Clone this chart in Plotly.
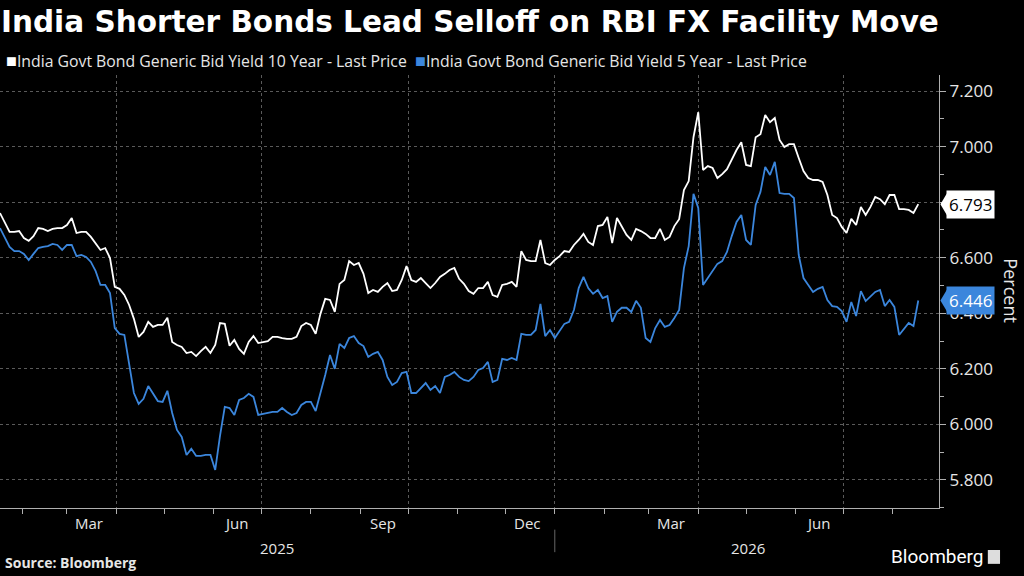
import pandas as pd
import plotly.graph_objects as go

# sample dates (every 3 days)
dates = pd.date_range("2025-01-18", "2026-08-17", freq="3D")

yield_10y = [
    6.761, 6.725, 6.693, 6.693, 6.696, 6.671, 6.661, 6.678, 6.707, 6.704,
    6.696, 6.704, 6.707, 6.707, 6.718, 6.743, 6.689, 6.693, 6.693, 6.675,
    6.650, 6.628, 6.635, 6.599, 6.495, 6.488, 6.466, 6.430, 6.380, 6.315,
    6.333, 6.369, 6.351, 6.358, 6.358, 6.384, 6.297, 6.286, 6.279, 6.257,
    6.261, 6.246, 6.264, 6.279, 6.257, 6.286, 6.365, 6.362, 6.283, 6.304,
    6.272, 6.254, 6.297, 6.318, 6.293, 6.297, 6.300, 6.315, 6.315, 6.311,
    6.308, 6.308, 6.315, 6.354, 6.365, 6.358, 6.326, 6.398, 6.452, 6.448,
    6.405, 6.506, 6.520, 6.588, 6.574, 6.581, 6.542, 6.473, 6.484, 6.477,
    6.495, 6.509, 6.480, 6.484, 6.520, 6.570, 6.520, 6.513, 6.527, 6.509,
    6.491, 6.509, 6.531, 6.542, 6.556, 6.563, 6.524, 6.506, 6.480, 6.470,
    6.491, 6.491, 6.513, 6.466, 6.459, 6.502, 6.506, 6.513, 6.495, 6.624,
    6.592, 6.588, 6.588, 6.664, 6.581, 6.574, 6.592, 6.606, 6.624, 6.621,
    6.646, 6.664, 6.686, 6.657, 6.646, 6.714, 6.718, 6.747, 6.653, 6.743,
    6.711, 6.682, 6.664, 6.704, 6.696, 6.686, 6.671, 6.671, 6.704, 6.664,
    6.675, 6.714, 6.739, 6.844, 6.876, 7.034, 7.124, 6.916, 6.930, 6.923,
    6.887, 6.901, 6.919, 6.955, 6.988, 7.016, 6.934, 6.930, 7.034, 7.045,
    7.114, 7.088, 7.103, 7.024, 6.999, 7.009, 7.009, 6.959, 6.912, 6.887,
    6.880, 6.880, 6.873, 6.826, 6.754, 6.743, 6.711, 6.689, 6.740, 6.718,
    6.783, 6.754, 6.783, 6.819, 6.811, 6.793, 6.826, 6.826, 6.775, 6.775,
    6.772, 6.761, 6.793,
]

yield_5y = [
    6.707, 6.671, 6.639, 6.624, 6.624, 6.614, 6.592, 6.614, 6.635, 6.639,
    6.642, 6.650, 6.646, 6.628, 6.646, 6.646, 6.606, 6.610, 6.603, 6.585,
    6.552, 6.502, 6.502, 6.473, 6.347, 6.326, 6.322, 6.218, 6.113, 6.074,
    6.092, 6.138, 6.113, 6.084, 6.081, 6.121, 6.041, 5.980, 5.955, 5.890,
    5.912, 5.887, 5.887, 5.890, 5.890, 5.836, 5.959, 6.063, 6.059, 6.034,
    6.088, 6.095, 6.110, 6.099, 6.034, 6.038, 6.041, 6.045, 6.045, 6.059,
    6.045, 6.034, 6.041, 6.070, 6.081, 6.081, 6.048, 6.110, 6.178, 6.250,
    6.200, 6.290, 6.275, 6.311, 6.318, 6.293, 6.282, 6.243, 6.254, 6.261,
    6.232, 6.171, 6.142, 6.153, 6.185, 6.189, 6.113, 6.113, 6.131, 6.149,
    6.124, 6.138, 6.113, 6.171, 6.178, 6.189, 6.171, 6.160, 6.156, 6.171,
    6.196, 6.203, 6.225, 6.153, 6.160, 6.236, 6.232, 6.239, 6.232, 6.326,
    6.322, 6.322, 6.340, 6.434, 6.318, 6.340, 6.311, 6.336, 6.362, 6.369,
    6.412, 6.491, 6.531, 6.491, 6.470, 6.484, 6.455, 6.462, 6.369, 6.405,
    6.420, 6.420, 6.405, 6.445, 6.420, 6.311, 6.297, 6.347, 6.376, 6.351,
    6.358, 6.383, 6.412, 6.563, 6.642, 6.830, 6.779, 6.502, 6.527, 6.549,
    6.578, 6.588, 6.621, 6.678, 6.729, 6.754, 6.664, 6.646, 6.790, 6.837,
    6.927, 6.898, 6.945, 6.833, 6.830, 6.830, 6.815, 6.610, 6.527, 6.502,
    6.477, 6.488, 6.495, 6.448, 6.426, 6.423, 6.408, 6.369, 6.441, 6.390,
    6.480, 6.444, 6.462, 6.477, 6.484, 6.426, 6.448, 6.423, 6.322, 6.344,
    6.365, 6.354, 6.446,
]

month_labels = ["Mar", "Jun", "Sep", "Dec", "Mar", "Jun"]
month_label_dates = ["2025-03-15", "2025-06-15", "2025-09-15",
                     "2025-12-15", "2026-03-15", "2026-06-15"]
year_labels = ["2025", "2026"]
year_label_dates = ["2025-07-11", "2026-05-02"]

name_10y = "India Govt Bond Generic Bid Yield 10 Year - Last Price"
name_5y = "India Govt Bond Generic Bid Yield 5 Year - Last Price"

WHITE = "#ffffff"
BLUE = "#3b86dc"
GRID = "#5a5a5a"
AXIS = "#b0b0b0"
TXT = "#e6e6e6"
FONT = "Open Sans"

fig = go.Figure()
fig.add_trace(go.Scatter(x=dates, y=yield_10y, mode="lines", name=name_10y,
                         line=dict(color=WHITE, width=1.8)))
fig.add_trace(go.Scatter(x=dates, y=yield_5y, mode="lines", name=name_5y,
                         line=dict(color=BLUE, width=1.8)))

month_starts = pd.date_range("2025-02-01", "2026-08-01", freq="MS")
quarter_starts = [d for d in month_starts if d.month in (1, 4, 7, 10)]

fig.update_layout(
    width=1024, height=576,
    paper_bgcolor="black", plot_bgcolor="black",
    margin=dict(l=0, r=85, t=75, b=68),
    showlegend=False,
    font=dict(family=FONT, color=TXT),
    title=dict(text="<b>India Shorter Bonds Lead Selloff on RBI FX Facility Move</b>",
               x=0.001, xanchor="left", y=0.962, yanchor="middle",
               font=dict(family="DejaVu Sans", size=29.5, color=WHITE)),
)

fig.update_xaxes(
    type="date", range=["2025-01-18", "2026-08-30"],
    tickvals=quarter_starts, showticklabels=False,
    ticks="outside", ticklen=5, tickcolor=AXIS,
    showgrid=True, gridcolor=GRID, griddash="dot", gridwidth=1,
    minor=dict(tickvals=list(month_starts), ticks="outside", ticklen=5,
               tickcolor=AXIS, showgrid=False),
    showline=True, linecolor=AXIS, linewidth=1.2, zeroline=False,
    automargin=False,
)
fig.update_yaxes(
    side="right", range=[5.699, 7.258],
    tick0=5.8, dtick=0.2, tickformat=".3f",
    ticks="outside", ticklen=6, tickcolor=AXIS,
    tickfont=dict(size=17, color=TXT),
    showgrid=True, gridcolor=GRID, griddash="dot", gridwidth=1,
    minor=dict(dtick=0.1, ticks="outside", ticklen=4, tickcolor=AXIS, showgrid=False),
    showline=True, linecolor=AXIS, linewidth=1.2, zeroline=False,
    automargin=False,
)

# legend row
fig.add_annotation(
    xref="paper", yref="paper", x=0.004, y=1.035, xanchor="left", yanchor="middle",
    showarrow=False, font=dict(size=15.8, color=TXT),
    text=(f'<span style="color:{WHITE};font-size:18px">■</span>{name_10y}'
          f'  <span style="color:{BLUE};font-size:18px">■</span>{name_5y}'),
)

# month and year labels under the axis
for lbl, d in zip(month_labels, month_label_dates):
    fig.add_annotation(x=d, xref="x", y=0, yref="paper", yshift=-15,
                       text=lbl, showarrow=False, yanchor="middle",
                       font=dict(size=15, color=TXT))
for lbl, d in zip(year_labels, year_label_dates):
    fig.add_annotation(x=d, xref="x", y=0, yref="paper", yshift=-40,
                       text=lbl, showarrow=False, yanchor="middle",
                       font=dict(size=15, color=TXT))
fig.add_shape(type="line", xref="x", yref="paper", x0="2026-01-01", x1="2026-01-01",
              y0=-0.05, y1=-0.102, line=dict(color="#666666", width=1))

# last value tags on the right axis
px_h = 433 / (7.258 - 5.699)
for val, bg, fg in [(yield_10y[-1], WHITE, "black"), (yield_5y[-1], BLUE, WHITE)]:
    fig.add_annotation(xref="paper", yref="y", x=1.0075, y=val, xanchor="left",
                       yanchor="middle", text=f"{val:.3f}", showarrow=False,
                       bgcolor=bg, borderpad=2, font=dict(size=17, color=fg))
    h = 11 / px_h
    fig.add_shape(type="path", xref="paper", yref="y", fillcolor=bg, line_width=0,
                  path=f"M 1.0015,{val} L 1.0085,{val + h} L 1.0085,{val - h} Z")

fig.add_annotation(xref="paper", yref="paper", x=1.0765, y=0.503, text="Percent",
                   xanchor="center", yanchor="middle",
                   textangle=90, showarrow=False, font=dict(size=18, color=TXT))

fig.add_annotation(xref="paper", yref="paper", x=0.003, y=-0.127, xanchor="left",
                   yanchor="middle", text="<b>Source: Bloomberg</b>", showarrow=False,
                   font=dict(size=14, color=TXT))
fig.add_annotation(xref="paper", yref="paper", x=1.049, y=-0.113, xanchor="right",
                   yanchor="middle", text="Bloomberg", showarrow=False,
                   font=dict(family="Roboto", size=19, color=WHITE))
fig.add_shape(type="rect", xref="paper", yref="paper", x0=1.052, x1=1.065,
              y0=-0.129, y1=-0.097, fillcolor="#dddddd", line_width=0)

# the page's default 8px body margin would shift the whole chart
fig.write_html("out.html", config={"displayModeBar": False},
               post_script="document.body.style.margin='0';")
